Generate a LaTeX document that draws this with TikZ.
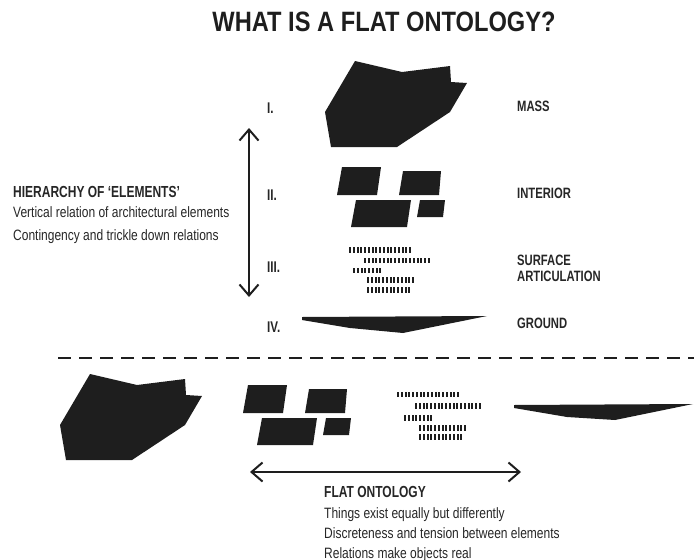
\documentclass[tikz,border=0pt]{standalone}
\usepackage{fontspec}
\setmainfont{Liberation Sans}[FakeStretch=0.8]
\newfontfamily\lblfont{Liberation Sans}[FakeStretch=0.75]
\newfontfamily\ttlfont{Liberation Sans}[FakeStretch=0.845]
\usetikzlibrary{arrows.meta}
\definecolor{ink}{HTML}{1E1E1E}
\definecolor{txt}{HTML}{262626}
\tikzset{
  solid shape/.style={fill=ink, draw=none},
  lbl/.style={anchor=base west, inner sep=0pt, text depth=0pt, text=txt, font=\lblfont\bfseries\fontsize{15}{15.5}\selectfont},
  num/.style={anchor=base west, inner sep=0pt, text depth=0pt, text=txt, font=\lblfont\bfseries\fontsize{15.5}{18}\selectfont},
  body/.style={anchor=base west, inner sep=0pt, text=txt, font=\fontsize{15}{18}\selectfont},
  head/.style={anchor=base west, inner sep=0pt, text=txt, font=\lblfont\bfseries\fontsize{16}{18}\selectfont},
  dblarrow/.style={line width=2pt, draw=ink, {Straight Barb[length=11pt,width=19pt,line width=2pt]}-{Straight Barb[length=11pt,width=19pt,line width=2pt]}},
  divider/.style={line width=2pt, draw=ink, dash pattern=on 13pt off 8pt}
}
\newcommand{\massshape}{(355,61) -- (402,72) -- (450,66) -- (451,82) -- (467,83) -- (450,112) -- (397,147) -- (331,147) -- (325,112) -- cycle}
\newcommand{\interiorshape}{%
  (342,167) -- (381,167) -- (377,195) -- (337,195) -- cycle
  (403,171) -- (441,171) -- (439,195) -- (399,195) -- cycle
  (356,200) -- (411,200) -- (407,227) -- (351,227) -- cycle
  (420,200) -- (445,200) -- (443,217) -- (417,217) -- cycle}
\newcommand{\barrow}[3]{%
  \pgfmathtruncatemacro{\nlast}{#3-1}%
  \foreach \i in {0,...,\nlast}{\fill[ink] ({#1+\i*3.75},{#2-2.9}) rectangle ++(2.0,5.8);}}
\begin{document}
\begin{tikzpicture}[x=1pt,y=-1pt]
\useasboundingbox (0,0) rectangle (694,560);
% title
\node[anchor=base, inner sep=0pt, text=ink, font=\ttlfont\bfseries\fontsize{28}{30}\selectfont] (title) at (384,31.7) {WHAT IS A FLAT ONTOLOGY?};

% hierarchy: shapes
\fill[solid shape] \massshape;
\fill[solid shape] \interiorshape;
\barrow{349}{250}{17}
\barrow{364}{260.5}{18}
\barrow{353}{270.5}{8}
\barrow{367}{280.3}{13}
\barrow{367}{290}{12}
\fill[solid shape] (302,317) -- (487,316) -- (403,333) -- (350,328) -- (302,320) -- cycle;

% numerals
\node[num] (n1) at (267,113) {I.};
\node[num] (n2) at (267,200) {II.};
\node[num] (n3) at (267,272.5) {III.};
\node[num] (n4) at (267,332) {IV.};

% right labels
\node[lbl] (mass) at (517,111.5) {MASS};
\node[lbl] (interior) at (517,198) {INTERIOR};
\node[lbl, anchor=north west, align=left] (surf) at (517,255) {SURFACE\\ARTICULATION};
\node[lbl] (ground) at (517,328) {GROUND};

% vertical arrow
\coordinate (vtop) at (249,128);
\coordinate (vbot) at (249,297);
\draw[dblarrow] (vbot) -- (vtop);

% left text
\node[head] (h1) at (13,197) {HIERARCHY OF ‘ELEMENTS’};
\node[body] (h2) at (13,217) {Vertical relation of architectural elements};
\node[body] (h3) at (13,240) {Contingency and trickle down relations};

% divider
\coordinate (dl) at (58,358);
\coordinate (dr) at (694,358);
\draw[divider] (dl) -- (dr);

% flat: shapes
\begin{scope}[shift={(-265,313)}]
  \fill[solid shape] \massshape;
\end{scope}
\begin{scope}[shift={(-94,218)}]
  \fill[solid shape] \interiorshape;
\end{scope}
\barrow{397}{394.5}{17}
\barrow{415}{406}{18}
\barrow{404}{418}{8}
\barrow{419}{428}{13}
\barrow{419}{437}{12}
\fill[solid shape] (514,405) -- (693,404) -- (615,420) -- (567,417) -- (514,408) -- cycle;

% horizontal arrow
\coordinate (hl) at (250,472);
\coordinate (hr) at (521,472);
\draw[dblarrow] (hl) -- (hr);

% bottom text
\node[head] (f1) at (324,497) {FLAT ONTOLOGY};
\node[body] (f2) at (324,518) {Things exist equally but differently};
\node[body] (f3) at (324,538) {Discreteness and tension between elements};
\node[body] (f4) at (324,558) {Relations make objects real};
\end{tikzpicture}
\end{document}
